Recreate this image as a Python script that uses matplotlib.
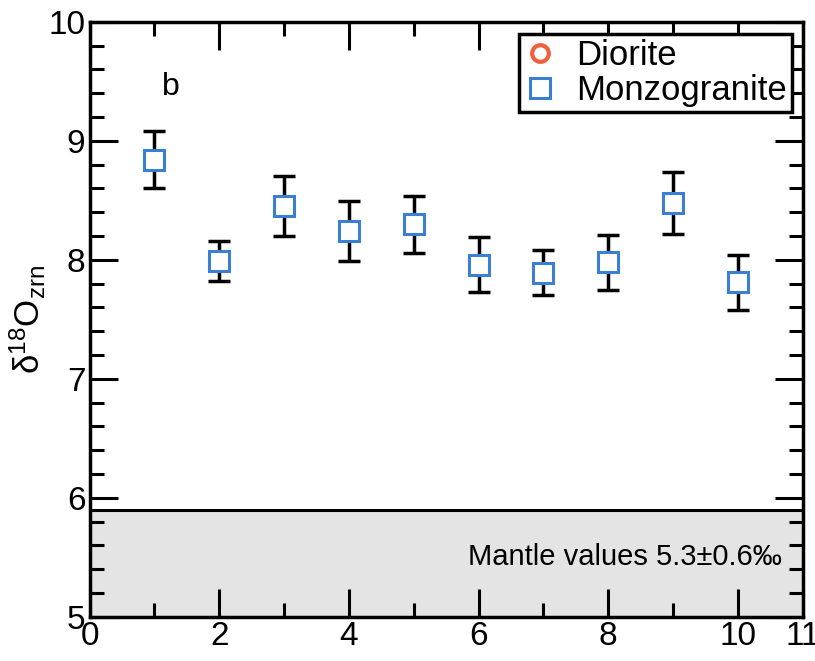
import matplotlib.pyplot as plt
from matplotlib.ticker import MultipleLocator

plt.rcParams["font.family"] = ["Liberation Sans", "DejaVu Sans"]
plt.rcParams["mathtext.fontset"] = "custom"
plt.rcParams["mathtext.rm"] = "Liberation Sans"
plt.rcParams["mathtext.it"] = "Liberation Sans:italic"

# sample number vs zircon d18O (Monzogranite)
sample_no = [1, 2, 3, 4, 5, 6, 7, 8, 9, 10]
d18o = [8.84, 7.99, 8.45, 8.24, 8.30, 7.96, 7.89, 7.98, 8.48, 7.81]
d18o_err = [0.24, 0.17, 0.25, 0.25, 0.24, 0.23, 0.19, 0.23, 0.26, 0.23]

mantle_low = 5.0
mantle_high = 5.9

fig = plt.figure(figsize=(8.15, 6.61), dpi=100)
ax = fig.add_axes([0.110, 0.067, 0.875, 0.900])

ax.axhspan(mantle_low, mantle_high, color="#e4e4e4", zorder=0)
ax.axhline(mantle_high, color="black", linewidth=2.2, zorder=1)
ax.text(10.68, 5.5, "Mantle values 5.3\u00b10.6\u2030", ha="right", va="center",
        fontsize=21)

ax.errorbar(sample_no, d18o, yerr=d18o_err, fmt="none", ecolor="black",
            elinewidth=2.5, capsize=8, capthick=2.5, zorder=2)
ax.plot(sample_no, d18o, linestyle="none", marker="s", markersize=15,
        markerfacecolor="white", markeredgecolor="#3b7fd4", markeredgewidth=2.2,
        zorder=3, label="Monzogranite")
ax.plot([], [], linestyle="none", marker="o", markersize=12,
        markerfacecolor="white", markeredgecolor="#f0603c", markeredgewidth=3,
        label="Diorite")

handles, labels = ax.get_legend_handles_labels()
leg = ax.legend(handles[::-1], labels[::-1], loc="upper right", fontsize=25,
                frameon=True, fancybox=False, edgecolor="black", framealpha=1,
                handletextpad=0.6, borderpad=0.15, labelspacing=0.05,
                handlelength=0.9, borderaxespad=0, bbox_to_anchor=(0.985, 0.98))
leg.get_frame().set_linewidth(2.5)

ax.text(1.25, 9.45, "b", fontsize=23, ha="center", va="center")

ax.set_xlim(0, 11)
ax.set_ylim(5, 10)
ax.set_xticks([0, 2, 4, 6, 8, 10, 11])
ax.xaxis.set_minor_locator(MultipleLocator(1))
ax.yaxis.set_major_locator(MultipleLocator(1))
ax.yaxis.set_minor_locator(MultipleLocator(0.2))
ax.tick_params(which="both", direction="in", top=True, right=True,
               labelsize=24, width=2.2, pad=3)
ax.tick_params(which="major", length=20)
ax.tick_params(which="minor", length=10)
for s in ax.spines.values():
    s.set_linewidth(2.5)

ax.set_ylabel("\u03b4$^{\\mathrm{18}}$O$_{\\mathrm{zrn}}$", fontsize=25, labelpad=0)

fig.savefig("out.png", dpi=100)
